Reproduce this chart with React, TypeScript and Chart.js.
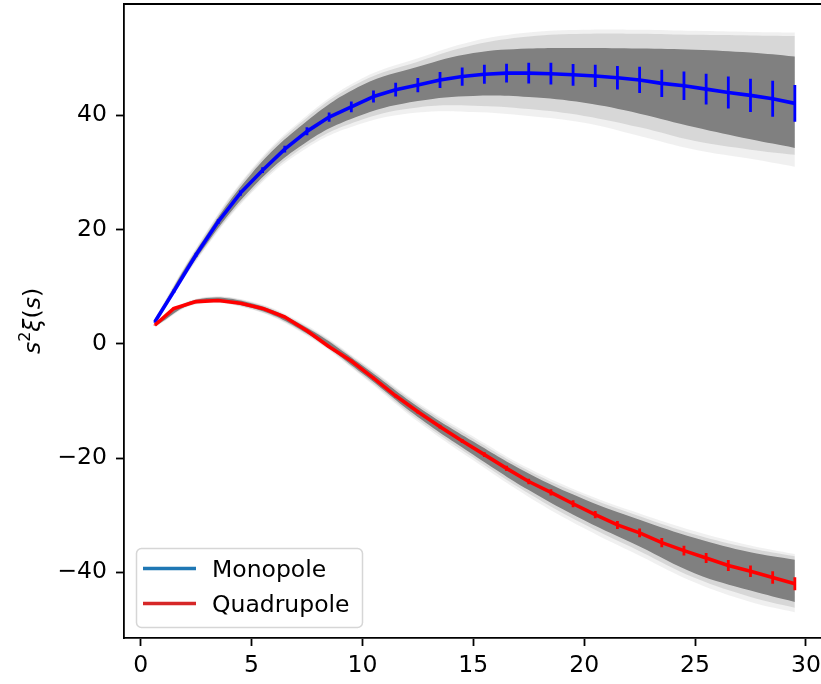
import React, { useEffect, useRef } from "react";
import { Chart, registerables } from "chart.js";

Chart.register(...registerables);

const FONT = "'DejaVu Sans', 'Liberation Sans', sans-serif";
const FONT_SIZE = 23.5;

// separation s (bin centres)
const S = [
  0.65, 1.5, 2.5, 3.5, 4.5, 5.5, 6.5, 7.5, 8.5, 9.5, 10.5, 11.5, 12.5, 13.5, 14.5,
  15.5, 16.5, 17.5, 18.5, 19.5, 20.5, 21.5, 22.5, 23.5, 24.5, 25.5, 26.5, 27.5, 28.5, 29.5,
];

// mean multipoles
const MONOPOLE = [
  3.9, 9.2, 15.6, 21.4, 26.4, 30.4, 34.1, 37.2, 39.7, 41.5, 43.3, 44.5, 45.3, 46.2, 46.8,
  47.2, 47.4, 47.4, 47.3, 47.1, 46.9, 46.6, 46.2, 45.6, 45.2, 44.6, 44.0, 43.5, 42.9, 42.1,
];
const MONOPOLE_ERR = [
  0.2, 0.3, 0.35, 0.4, 0.45, 0.5, 0.6, 0.7, 0.8, 0.95, 1.05, 1.2, 1.25, 1.4, 1.6,
  1.65, 1.65, 1.8, 1.9, 1.9, 1.95, 2.05, 2.3, 2.4, 2.5, 2.7, 2.8, 2.9, 3.15, 3.2,
];
const QUADRUPOLE = [
  3.3, 6.2, 7.4, 7.6, 7.1, 6.2, 4.7, 2.3, -0.5, -3.0, -6.0, -9.1, -11.9, -14.5, -17.0,
  -19.4, -21.8, -24.1, -26.0, -28.0, -29.9, -31.7, -33.1, -34.8, -36.2, -37.5, -38.8, -39.8, -40.9, -42.0,
];
const QUADRUPOLE_ERR = [
  0.1, 0.1, 0.1, 0.12, 0.12, 0.14, 0.15, 0.17, 0.2, 0.22, 0.25, 0.28, 0.3, 0.33, 0.36,
  0.4, 0.45, 0.5, 0.55, 0.6, 0.65, 0.7, 0.78, 0.8, 0.85, 0.87, 0.95, 1.0, 1.1, 1.15,
];

// envelope of the mock realisations (grey spaghetti)
const BAND_S = [0.65, 2.5, 5, 7.5, 10, 12.5, 15, 17.5, 20, 22.5, 25, 27.5, 29.5];
const MONO_CORE_HI = [4.2, 16.3, 29.8, 39.0, 45.3, 48.5, 50.9, 51.7, 51.8, 51.7, 51.5, 51.0, 50.3];
const MONO_CORE_LO = [3.6, 14.9, 27.2, 35.4, 40.1, 42.5, 43.4, 43.2, 42.2, 40.3, 37.9, 35.8, 34.3];
const MONO_MID_HI = [4.4, 16.6, 30.3, 39.6, 46.0, 49.4, 52.3, 53.8, 54.3, 54.3, 54.1, 54.0, 53.9];
const MONO_MID_LO = [3.4, 14.6, 26.7, 34.8, 39.3, 41.4, 41.7, 41.1, 39.9, 37.9, 35.5, 34.0, 33.1];
const MONO_OUT_HI = [4.5, 16.8, 30.6, 40.0, 46.5, 50.0, 53.0, 54.5, 55.0, 55.0, 54.8, 54.6, 54.5];
const MONO_OUT_LO = [3.3, 14.4, 26.4, 34.3, 38.6, 40.5, 40.6, 39.9, 38.7, 36.4, 34.0, 32.4, 31.0];

const QUAD_CORE_HI = [3.5, 7.7, 7.1, 2.8, -3.8, -11.0, -17.1, -22.7, -27.2, -30.8, -34.0, -36.5, -37.8];
const QUAD_CORE_LO = [3.1, 7.1, 6.3, 1.8, -5.2, -12.8, -19.4, -25.6, -30.9, -35.5, -40.2, -43.2, -45.2];
const QUAD_MID_HI = [3.6, 7.8, 7.3, 3.0, -3.5, -10.6, -16.6, -22.2, -26.6, -30.2, -33.4, -35.8, -37.2];
const QUAD_MID_LO = [3.0, 7.0, 6.1, 1.6, -5.5, -13.2, -19.9, -26.2, -31.6, -36.3, -41.0, -44.3, -46.2];
const QUAD_OUT_HI = [3.7, 7.9, 7.4, 3.2, -3.3, -10.3, -16.2, -21.8, -26.2, -29.7, -32.8, -35.3, -36.8];
const QUAD_OUT_LO = [2.9, 6.9, 6.0, 1.4, -5.7, -13.6, -20.4, -26.8, -32.3, -37.1, -41.8, -45.2, -47.0];

const X_TICKS = [0, 5, 10, 15, 20, 25, 30];
const Y_TICKS = [-40, -20, 0, 20, 40];
const X_MIN = -0.75;
const X_MAX = 30.95;
const Y_MIN = -51.5;
const Y_MAX = 59.5;

const LEGEND_ITEMS = [
  { label: "Monopole", color: "#1f77b4" },
  { label: "Quadrupole", color: "#d62728" },
];

const fmt = (v: number) => (v < 0 ? "\u2212" + Math.abs(v) : String(v));

const errorBarPlugin = {
  id: "errorBars",
  afterDatasetDraw(chart: any, args: any) {
    const ds: any = chart.data.datasets[args.index];
    if (!ds.errorBars) return;
    const { ctx, chartArea } = chart;
    const xs = chart.scales.x;
    const ys = chart.scales.y;
    ctx.save();
    ctx.beginPath();
    ctx.rect(chartArea.left, chartArea.top, chartArea.right - chartArea.left, chartArea.bottom - chartArea.top);
    ctx.clip();
    ctx.strokeStyle = ds.borderColor;
    ctx.lineWidth = 2.8;
    ctx.lineCap = "butt";
    ctx.beginPath();
    ds.data.forEach((p: any, i: number) => {
      const px = xs.getPixelForValue(p.x);
      ctx.moveTo(px, ys.getPixelForValue(p.y + ds.errorBars[i]));
      ctx.lineTo(px, ys.getPixelForValue(p.y - ds.errorBars[i]));
    });
    ctx.stroke();
    ctx.restore();
  },
};

const decorPlugin = {
  id: "decor",
  afterDraw(chart: any) {
    const { ctx, chartArea } = chart;
    ctx.save();
    // top & right spines
    ctx.strokeStyle = "#000";
    ctx.lineWidth = 1.8;
    ctx.beginPath();
    ctx.moveTo(chartArea.left - 0.9, chartArea.top);
    ctx.lineTo(chartArea.right, chartArea.top);
    ctx.lineTo(chartArea.right, chartArea.bottom);
    ctx.stroke();

    // y-axis title: s^2 xi(s)
    const it = `italic ${FONT_SIZE}px ${FONT}`;
    const rm = `${FONT_SIZE}px ${FONT}`;
    const sup = `${Math.round(FONT_SIZE * 0.7)}px ${FONT}`;
    const parts = [
      { t: "s", f: it, dy: 0 },
      { t: "2", f: sup, dy: -FONT_SIZE * 0.42 },
      { t: "\u03BE", f: it, dy: 0 },
      { t: "(", f: rm, dy: 0 },
      { t: "s", f: it, dy: 0 },
      { t: ")", f: rm, dy: 0 },
    ];
    let total = 0;
    const widths = parts.map((p) => {
      ctx.font = p.f;
      const w = ctx.measureText(p.t).width;
      total += w;
      return w;
    });
    const cy = (chartArea.top + chartArea.bottom) / 2;
    ctx.translate(40, cy);
    ctx.rotate(-Math.PI / 2);
    ctx.fillStyle = "#000";
    ctx.textBaseline = "alphabetic";
    ctx.textAlign = "left";
    let x = -total / 2;
    parts.forEach((p, i) => {
      ctx.font = p.f;
      ctx.fillText(p.t, x, p.dy);
      x += widths[i];
    });
    ctx.restore();

    // legend
    ctx.save();
    const bx = 136.5, by = 548.5, bw = 226, bh = 79, r = 5;
    ctx.beginPath();
    ctx.moveTo(bx + r, by);
    ctx.lineTo(bx + bw - r, by);
    ctx.arcTo(bx + bw, by, bx + bw, by + r, r);
    ctx.lineTo(bx + bw, by + bh - r);
    ctx.arcTo(bx + bw, by + bh, bx + bw - r, by + bh, r);
    ctx.lineTo(bx + r, by + bh);
    ctx.arcTo(bx, by + bh, bx, by + bh - r, r);
    ctx.lineTo(bx, by + r);
    ctx.arcTo(bx, by, bx + r, by, r);
    ctx.closePath();
    ctx.fillStyle = "rgba(255,255,255,0.8)";
    ctx.fill();
    ctx.strokeStyle = "rgba(204,204,204,0.8)";
    ctx.lineWidth = 1.5;
    ctx.stroke();
    LEGEND_ITEMS.forEach((item, i) => {
      const ly = 568.5 + i * 35;
      ctx.strokeStyle = item.color;
      ctx.lineWidth = 3.4;
      ctx.beginPath();
      ctx.moveTo(143, ly);
      ctx.lineTo(196, ly);
      ctx.stroke();
      ctx.fillStyle = "#000";
      ctx.font = `${FONT_SIZE}px ${FONT}`;
      ctx.textBaseline = "alphabetic";
      ctx.textAlign = "left";
      ctx.fillText(item.label, 212, ly + 8.3);
    });
    ctx.restore();
  },
};

const pts = (xs: number[], ys: number[]) => xs.map((x, i) => ({ x, y: ys[i] }));

const bandPair = (hi: number[], lo: number[], color: string, order: number) => [
  {
    data: pts(BAND_S, hi),
    fill: "+1",
    backgroundColor: color,
    borderColor: "rgba(0,0,0,0)",
    borderWidth: 0,
    pointRadius: 0,
    tension: 0.4,
    order,
  },
  {
    data: pts(BAND_S, lo),
    fill: false,
    backgroundColor: "rgba(0,0,0,0)",
    borderColor: "rgba(0,0,0,0)",
    borderWidth: 0,
    pointRadius: 0,
    tension: 0.4,
    order,
  },
];

export default function App() {
  const ref = useRef<HTMLCanvasElement>(null);

  useEffect(() => {
    const canvas = ref.current;
    if (!canvas) return;
    const OUT = "rgba(128,128,128,0.12)";
    const MID = "rgba(128,128,128,0.22)";
    const CORE = "rgba(128,128,128,1)";
    const datasets: any[] = [
      ...bandPair(MONO_OUT_HI, MONO_OUT_LO, OUT, 30),
      ...bandPair(MONO_MID_HI, MONO_MID_LO, MID, 20),
      ...bandPair(MONO_CORE_HI, MONO_CORE_LO, CORE, 10),
      ...bandPair(QUAD_OUT_HI, QUAD_OUT_LO, OUT, 30),
      ...bandPair(QUAD_MID_HI, QUAD_MID_LO, MID, 20),
      ...bandPair(QUAD_CORE_HI, QUAD_CORE_LO, CORE, 10),
      {
        label: "Monopole",
        data: pts(S, MONOPOLE),
        borderColor: "#0000ff",
        backgroundColor: "#0000ff",
        borderWidth: 3.6,
        pointRadius: 0,
        tension: 0,
        fill: false,
        order: 2,
        errorBars: MONOPOLE_ERR,
      },
      {
        label: "Quadrupole",
        data: pts(S, QUADRUPOLE),
        borderColor: "#ff0000",
        backgroundColor: "#ff0000",
        borderWidth: 3.6,
        pointRadius: 0,
        tension: 0,
        fill: false,
        order: 1,
        errorBars: QUADRUPOLE_ERR,
      },
    ];

    const tickFont = { family: FONT, size: FONT_SIZE };
    const chart = new Chart(canvas, {
      type: "line",
      data: { datasets },
      options: {
        animation: false,
        responsive: false,
        devicePixelRatio: 1,
        layout: { padding: { top: 4, right: 3, left: 0, bottom: 0 }, autoPadding: false } as any,
        plugins: { legend: { display: false }, tooltip: { enabled: false } },
        elements: { line: { borderJoinStyle: "round", borderCapStyle: "butt" } },
        scales: {
          x: {
            type: "linear",
            min: X_MIN,
            max: X_MAX,
            afterBuildTicks: (s: any) => {
              s.ticks = X_TICKS.map((v) => ({ value: v }));
            },
            afterFit: (s: any) => {
              s.height = 46;
              s.paddingLeft = 0;
              s.paddingRight = 0;
            },
            grid: { drawOnChartArea: false, drawTicks: true, tickLength: 8, tickColor: "#000", tickWidth: 1.8 },
            border: { display: true, color: "#000", width: 1.8 },
            ticks: { color: "#000", font: tickFont, padding: 6, maxRotation: 0, autoSkip: false, callback: (v: any) => fmt(Number(v)) },
          },
          y: {
            type: "linear",
            min: Y_MIN,
            max: Y_MAX,
            afterBuildTicks: (s: any) => {
              s.ticks = Y_TICKS.map((v) => ({ value: v }));
            },
            afterFit: (s: any) => {
              s.width = 124;
              s.paddingTop = 0;
              s.paddingBottom = 0;
            },
            grid: { drawOnChartArea: false, drawTicks: true, tickLength: 8, tickColor: "#000", tickWidth: 1.8 },
            border: { display: true, color: "#000", width: 1.8 },
            ticks: { color: "#000", font: tickFont, padding: 9, autoSkip: false, callback: (v: any) => fmt(Number(v)) },
          },
        },
      } as any,
      plugins: [errorBarPlugin, decorPlugin],
    });
    return () => chart.destroy();
  }, []);

  return (
    <div style={{ position: "fixed", left: 0, top: 0, width: 821, height: 684, overflow: "hidden", background: "#fff" }}>
      <canvas ref={ref} width={830} height={684} style={{ display: "block" }} />
    </div>
  );
}
